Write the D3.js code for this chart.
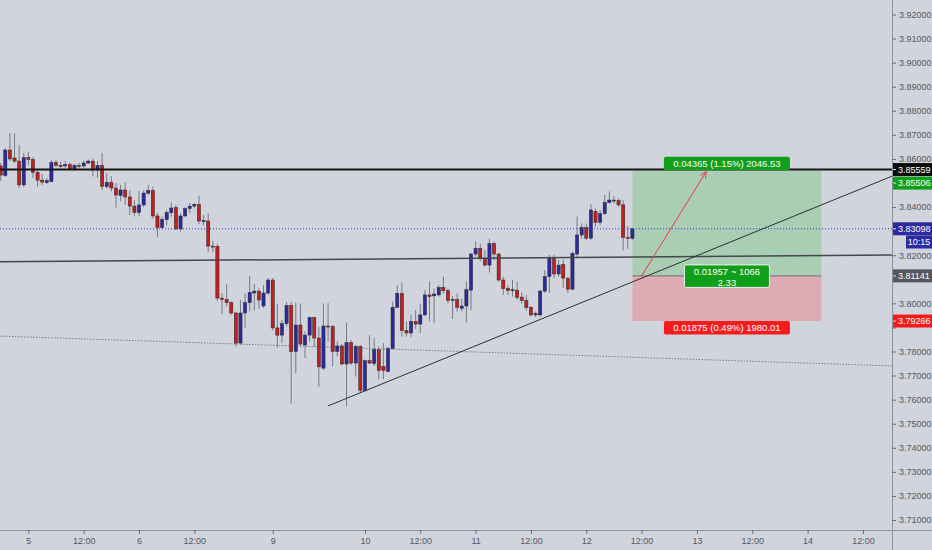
<!DOCTYPE html>
<html>
<head>
<meta charset="utf-8">
<script src="https://cdn.jsdelivr.net/npm/d3@7"></script>
<style>
  body { margin: 0; background: #d1d4dc; }
  svg { display: block; font-family: "Liberation Sans", Arial, sans-serif; }
</style>
</head>
<body>
<svg id="chart" width="932" height="550"></svg>
<script>
// hourly candles, bar index 0 = first visible bar
const open = [
  3.8571,3.8531,3.8637,3.8604,3.8591,3.8492,3.8606,3.8598,3.8544,3.8512,
  3.8502,3.8506,3.8585,3.8573,3.8571,3.8577,3.8558,3.8573,3.8571,3.8583,
  3.8591,3.8554,3.8573,3.8485,3.8502,3.8479,3.8448,3.8471,3.8442,3.8404,
  3.8377,3.8409,3.8458,3.8469,3.8363,3.8315,3.8348,3.8377,3.8398,3.8309,
  3.8363,3.8394,3.8404,3.8411,3.8342,3.8342,3.8238,3.8236,3.8022,3.8016,
  3.8003,3.7960,3.7835,3.7960,3.8003,3.8043,3.8051,3.7989,3.8043,3.8097,
  3.7898,3.7868,3.7916,3.7991,3.7800,3.7910,3.7827,3.7868,3.7941,3.7856,
  3.7731,3.7906,3.7904,3.7800,3.7823,3.7748,3.7837,3.7752,3.7821,3.7638,
  3.7762,3.7750,3.7808,3.7738,3.7717,3.7812,3.7983,3.8041,3.7887,3.7877,
  3.7925,3.7914,3.7952,3.8035,3.8031,3.8035,3.8066,3.8053,3.8012,3.8016,
  3.7979,3.7989,3.8055,3.8205,3.8228,3.8186,3.8159,3.8248,3.8205,3.8097,
  3.8062,3.8055,3.8055,3.8026,3.8012,3.7983,3.7952,3.7952,3.8051,3.8111,
  3.8186,3.8122,3.8161,3.8103,3.8059,3.8205,3.8284,3.8315,3.8271,3.8382,
  3.8336,3.8373,3.8419,3.8429,3.8427,3.8409,3.8274,3.8270
]
const high = [
  3.8583,3.8645,3.8708,3.8706,3.8658,3.8625,3.8629,3.8608,3.8554,3.8537,
  3.8521,3.8595,3.8595,3.8589,3.8591,3.8585,3.8579,3.8583,3.8593,3.8598,
  3.8602,3.8591,3.8625,3.8541,3.8529,3.8500,3.8492,3.8504,3.8469,3.8429,
  3.8467,3.8469,3.8492,3.8485,3.8375,3.8361,3.8388,3.8419,3.8409,3.8375,
  3.8400,3.8417,3.8417,3.8448,3.8367,3.8375,3.8259,3.8248,3.8043,3.8080,
  3.8008,3.7966,3.8014,3.8041,3.8113,3.8080,3.8062,3.8076,3.8105,3.8105,
  3.7999,3.7931,3.8006,3.8006,3.8003,3.7999,3.7883,3.7945,3.7945,3.7902,
  3.7999,3.8001,3.7910,3.7841,3.7831,3.7920,3.7848,3.7827,3.7827,3.7767,
  3.7868,3.7856,3.7821,3.7835,3.7819,3.8008,3.8076,3.8086,3.7925,3.7952,
  3.7972,3.7999,3.8055,3.8091,3.8062,3.8076,3.8111,3.8062,3.8031,3.8041,
  3.8020,3.8091,3.8209,3.8257,3.8248,3.8222,3.8269,3.8257,3.8209,3.8111,
  3.8076,3.8097,3.8091,3.8045,3.8035,3.7989,3.7966,3.8055,3.8138,3.8201,
  3.8201,3.8180,3.8182,3.8111,3.8215,3.8361,3.8332,3.8332,3.8413,3.8394,
  3.8388,3.8450,3.8465,3.8444,3.8436,3.8429,3.8321,3.8311
]
const low = [
  3.8508,3.8525,3.8591,3.8583,3.8479,3.8483,3.8575,3.8521,3.8483,3.8492,
  3.8496,3.8502,3.8566,3.8560,3.8562,3.8554,3.8552,3.8562,3.8562,3.8581,
  3.8527,3.8521,3.8471,3.8477,3.8465,3.8398,3.8425,3.8409,3.8367,3.8361,
  3.8361,3.8400,3.8450,3.8352,3.8276,3.8311,3.8325,3.8361,3.8305,3.8298,
  3.8358,3.8375,3.8394,3.8329,3.8325,3.8213,3.8213,3.8008,3.7956,3.7987,
  3.7952,3.7821,3.7827,3.7898,3.7966,3.7972,3.7977,3.7981,3.8035,3.7887,
  3.7815,3.7837,3.7904,3.7584,3.7710,3.7821,3.7773,3.7841,3.7819,3.7652,
  3.7723,3.7841,3.7738,3.7779,3.7744,3.7571,3.7744,3.7696,3.7629,3.7634,
  3.7748,3.7740,3.7685,3.7685,3.7713,3.7810,3.7981,3.7862,3.7862,3.7860,
  3.7893,3.7877,3.7947,3.7925,3.7918,3.8028,3.8041,3.7999,3.7935,3.7966,
  3.7966,3.7920,3.7972,3.8195,3.8174,3.8153,3.8128,3.8180,3.8091,3.8035,
  3.8035,3.8028,3.8016,3.7997,3.7970,3.7945,3.7943,3.7945,3.8043,3.8043,
  3.8105,3.8111,3.8064,3.8043,3.8055,3.8188,3.8269,3.8263,3.8263,3.8319,
  3.8325,3.8367,3.8415,3.8415,3.8402,3.8220,3.8226,3.8265
]
const close = [
  3.8533,3.8637,3.8600,3.8591,3.8492,3.8605,3.8598,3.8544,3.8512,3.8504,
  3.8510,3.8585,3.8573,3.8571,3.8577,3.8558,3.8573,3.8571,3.8583,3.8591,
  3.8554,3.8573,3.8485,3.8502,3.8479,3.8450,3.8471,3.8442,3.8404,3.8377,
  3.8409,3.8458,3.8469,3.8363,3.8315,3.8348,3.8377,3.8396,3.8309,3.8363,
  3.8394,3.8404,3.8411,3.8342,3.8344,3.8238,3.8236,3.8022,3.8016,3.8003,
  3.7960,3.7835,3.7960,3.8003,3.8045,3.8051,3.8014,3.8043,3.8097,3.7898,
  3.7868,3.7916,3.7991,3.7800,3.7910,3.7831,3.7868,3.7941,3.7856,3.7736,
  3.7906,3.7904,3.7800,3.7823,3.7748,3.7837,3.7752,3.7821,3.7638,3.7762,
  3.7752,3.7808,3.7721,3.7721,3.7812,3.7983,3.8041,3.7887,3.7877,3.7925,
  3.7914,3.7952,3.8035,3.8028,3.8039,3.8066,3.8053,3.8012,3.8016,3.7983,
  3.7989,3.8057,3.8205,3.8228,3.8186,3.8159,3.8248,3.8205,3.8097,3.8062,
  3.8053,3.8057,3.8024,3.8012,3.7983,3.7952,3.7958,3.8051,3.8111,3.8186,
  3.8122,3.8159,3.8105,3.8059,3.8207,3.8284,3.8315,3.8271,3.8388,3.8336,
  3.8373,3.8419,3.8429,3.8427,3.8409,3.8274,3.8270,3.83098
]

// time axis: bar index of each label
const timeTickIdx = [6, 18, 30, 42, 59, 79, 91, 103, 115, 127, 139, 151, 163, 175, 187]
const timeTickLabels = ['5','12:00','6','12:00','9','10','12:00','11','12:00','12','12:00','13','12:00','14','12:00']
const priceTicks = d3.range(22).map(i => +(3.71 + i * 0.01).toFixed(2))

// drawings
const levelPrice = 3.85559
const lastPrice = 3.83098
const countdown = '10:15'
const trendLine = [[71, 3.7574], [137, 3.8089]]
const flatLine = [[-0.15, 3.81726], [193.3, 3.82008]]
const dottedLine = [[-0.15, 3.7864], [193.3, 3.7740]]
const entryPrice = 3.81141, targetPrice = 3.85506, stopPrice = 3.79266
const posRange = [137, 178]
const arrowPts = [[139, 3.81141], [153, 3.8547]]
const targetText = '0.04365 (1.15%) 2046.53'
const stopText = '0.01875 (0.49%) 1980.01'
const midText = ['0.01957 ~ 1066', '2.33']

const W = 932, H = 550, plotW = 892, plotH = 530
const bg = '#d1d4dc'

const candles = open.map((o, i) => ({ i, o, h: high[i], l: low[i], c: close[i] }))

const x = d3.scaleLinear().domain([-0.15, 193.3]).range([0, plotW])
const y = d3.scaleLinear().domain([3.92, 3.71]).range([14.5, 520])

const svg = d3.select('#chart')
svg.append('rect').attr('width', W).attr('height', H).attr('fill', bg)
svg.append('defs').append('clipPath').attr('id', 'clip')
  .append('rect').attr('width', plotW).attr('height', plotH)

const plot = svg.append('g').attr('clip-path', 'url(#clip)')

//extend a line through two anchors up to the given bar index
function extendTo(a, b, i) {
  const slope = (b[1] - a[1]) / (b[0] - a[0])
  return [i, a[1] + slope * (i - a[0])]
}
const line = d3.line().x(d => x(d[0])).y(d => y(d[1]))

// position tool (long)
const px0 = x(posRange[0]), px1 = x(posRange[1])
plot.append('rect').attr('x', px0).attr('width', px1 - px0)
  .attr('y', y(targetPrice)).attr('height', y(entryPrice) - y(targetPrice))
  .attr('fill', '#a9ceb3')
plot.append('rect').attr('x', px0).attr('width', px1 - px0)
  .attr('y', y(entryPrice)).attr('height', y(stopPrice) - y(entryPrice))
  .attr('fill', '#dcabb4')
plot.append('line').attr('x1', px0).attr('x2', px1)
  .attr('y1', y(entryPrice)).attr('y2', y(entryPrice))
  .attr('stroke', '#6e6e6e').attr('stroke-width', 1)

plot.append('path').attr('d', line(dottedLine))
  .attr('fill', 'none').attr('stroke', '#7d7f86').attr('stroke-width', 1)
  .attr('stroke-dasharray', '1.5,1.5')

// candles
const bars = plot.append('g').selectAll('g').data(candles).enter().append('g')
bars.append('line')
  .attr('x1', d => x(d.i)).attr('x2', d => x(d.i))
  .attr('y1', d => y(d.h)).attr('y2', d => y(d.l))
  .attr('stroke', '#777a80').attr('stroke-width', 1)
bars.append('rect')
  .attr('x', d => x(d.i) - 1.6).attr('width', 3.2)
  .attr('y', d => y(Math.max(d.o, d.c)))
  .attr('height', d => Math.max(1, Math.abs(y(d.o) - y(d.c))))
  .attr('fill', d => d.c >= d.o ? '#2a2a9e' : '#c21f1d')
  .attr('stroke', '#2a2a2a').attr('stroke-width', 0.5)

plot.append('path').attr('d', line(flatLine))
  .attr('fill', 'none').attr('stroke', '#45474c').attr('stroke-width', 1.5)

plot.append('path').attr('d', line([trendLine[0], extendTo(trendLine[0], trendLine[1], 193.3)]))
  .attr('fill', 'none').attr('stroke', '#2f3034').attr('stroke-width', 1)

plot.append('line').attr('x1', 0).attr('x2', plotW)
  .attr('y1', y(levelPrice)).attr('y2', y(levelPrice))
  .attr('stroke', '#141414').attr('stroke-width', 2)

plot.append('line').attr('x1', 0).attr('x2', plotW)
  .attr('y1', y(lastPrice)).attr('y2', y(lastPrice))
  .attr('stroke', '#3a3ac8').attr('stroke-width', 1).attr('stroke-dasharray', '1,2')

// red arrow towards the target
const ax0 = x(arrowPts[0][0]), ay0 = y(arrowPts[0][1])
const ax1 = x(arrowPts[1][0]), ay1 = y(arrowPts[1][1])
const ang = Math.atan2(ay1 - ay0, ax1 - ax0)
plot.append('line').attr('x1', ax0).attr('y1', ay0).attr('x2', ax1).attr('y2', ay1)
  .attr('stroke', '#f23645').attr('stroke-width', 1)
plot.append('path')
  .attr('d', `M${ax1 - 7 * Math.cos(ang - 0.45)},${ay1 - 7 * Math.sin(ang - 0.45)}L${ax1},${ay1}L${ax1 - 7 * Math.cos(ang + 0.45)},${ay1 - 7 * Math.sin(ang + 0.45)}`)
  .attr('fill', 'none').attr('stroke', '#f23645').attr('stroke-width', 1)

// position labels
const pcx = (px0 + px1) / 2
function tag(cx, top, w, h, fill, lines, border) {
  plot.append('rect').attr('x', cx - w / 2).attr('y', top).attr('width', w).attr('height', h)
    .attr('rx', 2).attr('fill', fill)
    .attr('stroke', border || 'none').attr('stroke-width', border ? 1 : 0)
  lines.forEach((t, k) => {
    plot.append('text').attr('x', cx).attr('y', top + 10 + k * 11)
      .attr('text-anchor', 'middle').attr('font-size', '9.5px').attr('fill', '#fff')
      .text(t)
  })
}
tag(pcx, y(targetPrice) - 14, 126, 13.5, '#0f9f1a', [targetText])
tag(pcx, y(stopPrice), 126, 13.5, '#f41c1c', [stopText])
tag(pcx, y(entryPrice) - 11, 85, 22.5, '#0f9f1a', midText, '#f0f0f0')

// axes
svg.append('line').attr('x1', plotW + 0.5).attr('x2', plotW + 0.5).attr('y1', 0).attr('y2', H)
  .attr('stroke', '#8e929a')
svg.append('line').attr('x1', 0).attr('x2', W).attr('y1', plotH + 0.5).attr('y2', plotH + 0.5)
  .attr('stroke', '#8e929a')

// price tags sit on the scale, hide the tick labels underneath them
const tagPrices = [levelPrice, targetPrice, lastPrice, entryPrice, stopPrice]
const tagY = [y(levelPrice), y(targetPrice) + 12.3, y(lastPrice), y(lastPrice) + 13.2, y(entryPrice), y(stopPrice)]

const yAxis = svg.append('g').attr('transform', `translate(${plotW},0)`)
  .call(d3.axisRight(y).tickValues(priceTicks).tickSize(4).tickPadding(3).tickFormat(d3.format('.5f')))
yAxis.select('.domain').remove()
yAxis.selectAll('line').attr('stroke', '#6b6e75')
yAxis.selectAll('text').attr('fill', '#55585f').attr('font-size', '9px')
  .attr('font-family', '"Liberation Sans", Arial, sans-serif')
  .style('display', d => tagY.some(t => Math.abs(t - y(d)) < 9.5) ? 'none' : null)

const xAxis = svg.append('g').attr('transform', `translate(0,${plotH})`)
  .call(d3.axisBottom(x).tickValues(timeTickIdx).tickSize(4).tickPadding(4)
    .tickFormat((d, k) => timeTickLabels[k]))
xAxis.select('.domain').remove()
xAxis.selectAll('line').attr('stroke', '#6b6e75')
xAxis.selectAll('text').attr('fill', '#55585f').attr('font-size', '9px')
  .attr('font-family', '"Liberation Sans", Arial, sans-serif')

function priceTag(price, fill, shift, label, left) {
  const cy = y(price) + shift
  const x0 = left || plotW + 1
  svg.append('rect').attr('x', x0).attr('y', cy - 6.5).attr('width', W - x0).attr('height', 13)
    .attr('fill', fill)
  if (!left) {
    svg.append('line').attr('x1', plotW + 1).attr('x2', plotW + 4).attr('y1', cy).attr('y2', cy)
      .attr('stroke', '#ddd')
  }
  svg.append('text').attr('x', left ? (x0 + W) / 2 : plotW + 6).attr('y', cy + 3.2)
    .attr('text-anchor', left ? 'middle' : 'start')
    .attr('font-size', '9px').attr('fill', '#fff').text(label)
}
priceTag(levelPrice, '#0b0b0b', 0, d3.format('.5f')(levelPrice))
priceTag(targetPrice, '#0f9f1a', 12.3, d3.format('.5f')(targetPrice))
priceTag(lastPrice, '#2b2aa0', 0, d3.format('.5f')(lastPrice))
priceTag(lastPrice, '#2b2aa0', 13.2, countdown, 906)
priceTag(entryPrice, '#55575c', 0, d3.format('.5f')(entryPrice))
priceTag(stopPrice, '#f41c1c', 0, d3.format('.5f')(stopPrice))
</script>
</body>
</html>
